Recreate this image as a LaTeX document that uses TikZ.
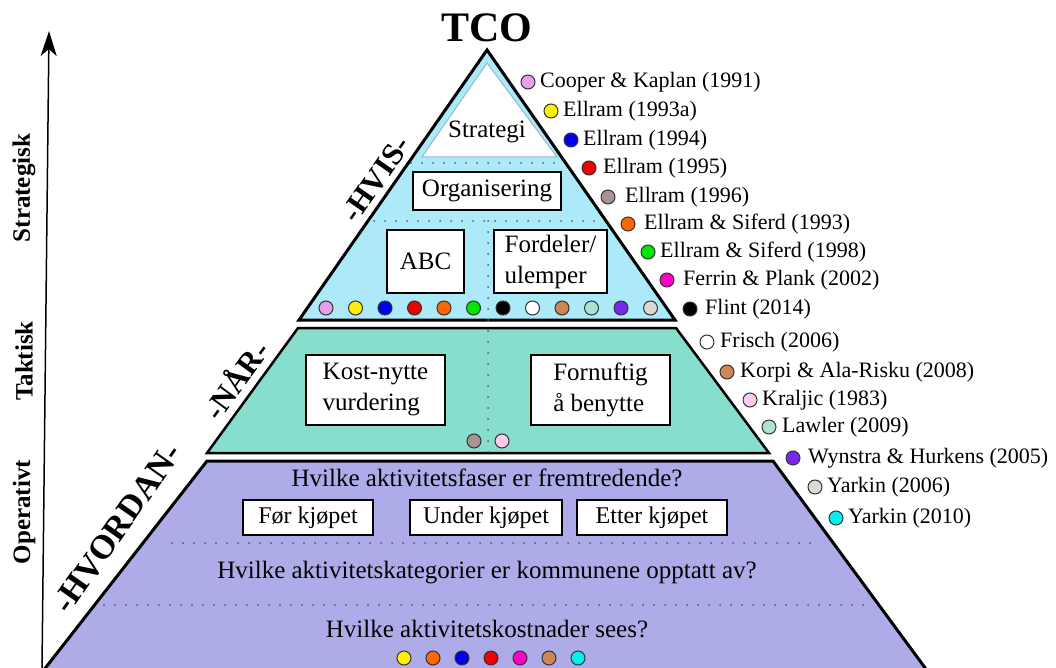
\documentclass[tikz,border=0pt]{standalone}
\usepackage{fontspec}
\setmainfont{Liberation Serif}
\usetikzlibrary{arrows.meta}
\definecolor{hvisblue}{RGB}{172,234,250}
\definecolor{naarteal}{RGB}{136,222,205}
\definecolor{hvordanviolet}{RGB}{174,172,232}
\definecolor{edgegray}{RGB}{150,185,200}
\definecolor{cooper}{RGB}{232,160,236}
\definecolor{ellramA}{RGB}{255,240,0}
\definecolor{ellramB}{RGB}{0,0,235}
\definecolor{ellramC}{RGB}{240,0,0}
\definecolor{ellramD}{RGB}{168,148,148}
\definecolor{siferdA}{RGB}{255,102,0}
\definecolor{siferdB}{RGB}{0,230,0}
\definecolor{ferrin}{RGB}{255,0,200}
\definecolor{korpi}{RGB}{205,135,85}
\definecolor{kraljic}{RGB}{255,204,238}
\definecolor{lawler}{RGB}{170,226,212}
\definecolor{wynstra}{RGB}{120,40,235}
\definecolor{yarkinA}{RGB}{222,216,210}
\definecolor{yarkinB}{RGB}{0,240,240}
\begin{document}
\begin{tikzpicture}[x=1pt, y=-1pt,
  every node/.style={font=\fontsize{22}{26}\selectfont, inner sep=0pt},
  box/.style={draw, fill=white, line width=1.6pt, font=\fontsize{25}{31}\selectfont, align=left},
  refdot/.style={circle, draw=black!80, line width=1pt, minimum size=14pt},
  level/.style={font=\bfseries\fontsize{31}{31}\selectfont},
  axislbl/.style={font=\bfseries\fontsize{25}{25}\selectfont, rotate=90},
  dotline/.style={line width=2pt, dash pattern=on 0pt off 11pt, line cap=round, black!65},
  question/.style={font=\fontsize{25}{30}\selectfont}]
  \useasboundingbox (0,0) rectangle (1056,668);
  \clip (0,0) rectangle (1056,668);

  % pyramid levels
  \draw[fill=hvordanviolet, line width=3pt] (207,461) -- (773,461) -- (934,680) -- (36,680) -- cycle;
  \draw[fill=naarteal, line width=2.5pt] (298,328) -- (676,328) -- (769,453) -- (207,453) -- cycle;
  \draw[fill=hvisblue, line width=3pt, line join=miter] (487,50) -- (675,320) -- (299,320) -- cycle;
  \draw[fill=white, draw=edgegray, line width=1pt] (487,63) -- (557,157) -- (422,157) -- cycle;

  % dotted separators
  \draw[dotline] (411,163) -- (563,163);
  \draw[dotline] (374,221) -- (604,221);
  \draw[dotline] (488,221) -- (488,456);
  \draw[dotline] (172,543) -- (820,543);
  \draw[dotline] (104,605) -- (872,605);

  \node[font=\bfseries\fontsize{42}{42}\selectfont] (tco) at (487,28) {TCO};
  \node (strategi) at (487,132) [font=\fontsize{25}{30}\selectfont] {Strategi};
  \node[box, minimum width=148pt, minimum height=38pt] (org) at (487,191) {Organisering};
  \node[box, minimum width=77pt, minimum height=63pt] (abc) at (425.5,261.5) {ABC};
  \node[box, minimum width=113pt, minimum height=63pt, inner xsep=9pt] (fordeler) at (550.5,261.5) {Fordeler/\\ulemper};
  \node[box, minimum width=139pt, minimum height=70pt] (kost) at (375.5,390) {Kost-nytte\\vurdering};
  \node[box, minimum width=139pt, minimum height=70pt] (fornuft) at (600.5,390) {Fornuftig\\å benytte};

  \node[question] (faser) at (487,478) {Hvilke aktivitetsfaser er fremtredende?};
  \node[box, minimum width=130pt, minimum height=35pt, font=\fontsize{24}{28}\selectfont] (foer) at (308,517.5) {Før kjøpet};
  \node[box, minimum width=152pt, minimum height=35pt, font=\fontsize{24}{28}\selectfont] (under) at (486,517.5) {Under kjøpet};
  \node[box, minimum width=150pt, minimum height=35pt, font=\fontsize{24}{28}\selectfont] (etter) at (652,517.5) {Etter kjøpet};
  \node[question] (kategorier) at (487,573) {Hvilke aktivitetskategorier er kommunene opptatt av?};
  \node[question] (kostnader) at (487,629) {Hvilke aktivitetskostnader sees?};

  % level words along the left edge
  \node[level, rotate=55] (hvis) at (376,179) {-HVIS-};
  \node[level, rotate=54] (naar) at (235,379) {-NÅR-};
  \node[level, rotate=55, font=\bfseries\fontsize{34}{34}\selectfont] (hvordan) at (117,528) {-HVORDAN-};

  % axis
  \coordinate (axisbot) at (42,668);
  \coordinate (axistop) at (49,31);
  \draw[line width=1.5pt, -{Stealth[length=25pt, width=16pt, inset=7pt]}] (axisbot) -- (axistop);
  \node[axislbl] (strategisk) at (24,188) {Strategisk};
  \node[axislbl] (taktisk) at (24,361) {Taktisk};
  \node[axislbl] (operativt) at (24,512) {Operativt};

  % reference dots inside the levels
  \foreach \c [count=\i] in {cooper,ellramA,ellramB,ellramC,siferdA,siferdB,black,white,korpi,lawler,wynstra,yarkinA}
    \node[refdot, fill=\c] (hvisdot\i) at ({326+29.5*(\i-1)},308) {};
  \node[refdot, fill=ellramD] (naardot1) at (474,441) {};
  \node[refdot, fill=kraljic] (naardot2) at (502,441) {};
  \foreach \c [count=\i] in {ellramA,siferdA,ellramB,ellramC,ferrin,korpi,yarkinB}
    \node[refdot, fill=\c] (hvordandot\i) at ({404+29*(\i-1)},658) {};

  % legend
  \foreach \x/\y/\tx/\c/\t [count=\i] in {
      528/82/540/cooper/Cooper \& Kaplan (1991),
      551/111/563/ellramA/Ellram (1993a),
      571/140/583/ellramB/Ellram (1994),
      589/168/603/ellramC/Ellram (1995),
      608/197/625/ellramD/Ellram (1996),
      628/224/644/siferdA/Ellram \& Siferd (1993),
      648/252/660/siferdB/Ellram \& Siferd (1998),
      667/280/683/ferrin/Ferrin \& Plank (2002),
      690/309/705/black/Flint (2014),
      707/342/720/white/Frisch (2006),
      727/372/740/korpi/Korpi \& Ala-Risku (2008),
      750/400/762/kraljic/Kraljic (1983),
      769/427/782/lawler/Lawler (2009),
      793/458/808/wynstra/Wynstra \& Hurkens (2005),
      815/487/827/yarkinA/Yarkin (2006),
      836/518/848/yarkinB/Yarkin (2010)} {
    \node[refdot, fill=\c] (ref\i) at (\x,\y) {};
    \node[anchor=west] (reftext\i) at (\tx,\y) {\t};
  }
\end{tikzpicture}
\end{document}
